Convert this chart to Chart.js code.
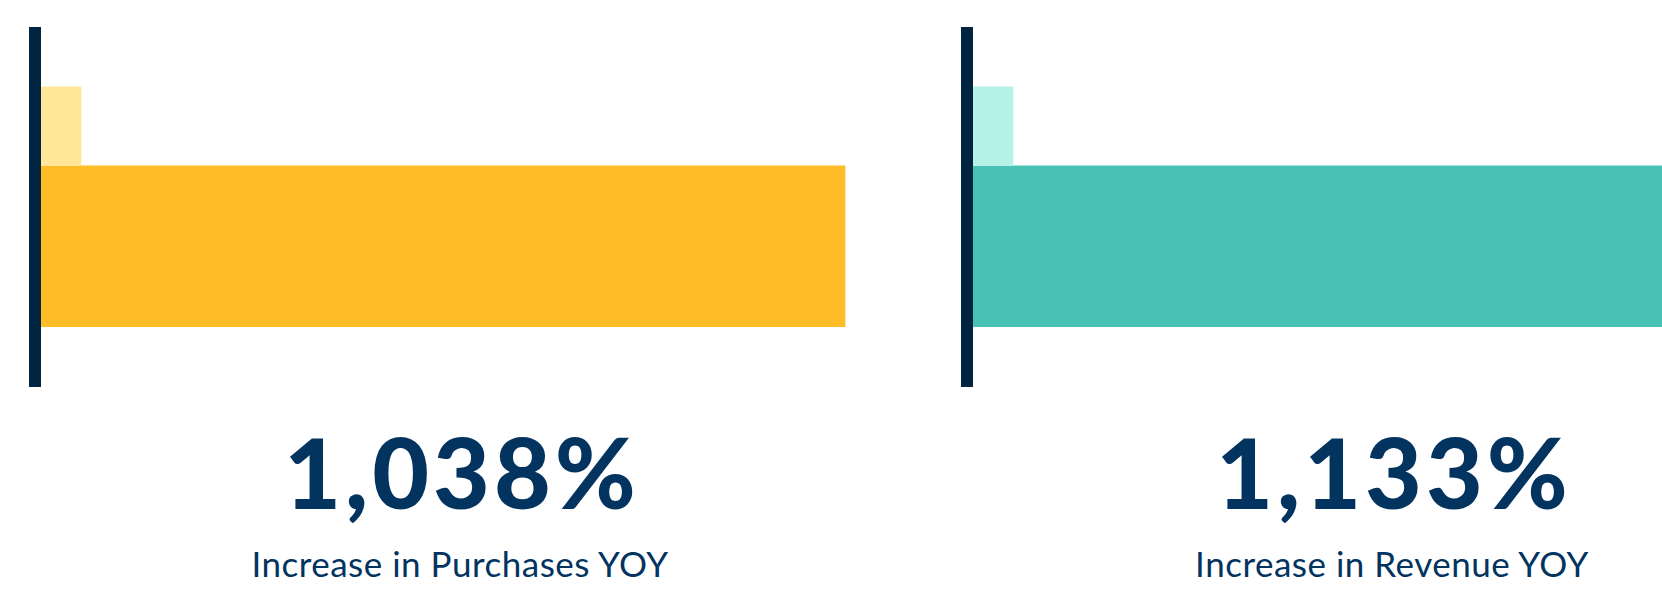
<!DOCTYPE html>
<html>
<head>
<meta charset="utf-8">
<title>YOY Increase</title>
<script src="https://cdn.jsdelivr.net/npm/chart.js"></script>
<style>
  body { margin:0; width:1662px; height:604px; overflow:hidden; background:#fff; font-family: Lato, sans-serif; }
  .panel { position:absolute; top:0; width:932px; height:604px; }
  .chartBox { position:absolute; left:0; top:0; width:932px; height:400px; }
  .big, .cap { position:absolute; width:920px; text-align:center; line-height:1.2; color:#03335f; white-space:nowrap; }
  .big { left:2px; top:413px; font-size:98px; font-weight:900; letter-spacing:4px; }
  .cap { left:0; top:542px; font-size:35px; font-weight:400; letter-spacing:0.5px; }
</style>
</head>
<body>
<div id="root"></div>
<script>
// values (last year = 100)
const panels = ['Purchases', 'Revenue'];
const lastYear = [100, 100];
const thisYear = [1761, 1908];
const increase = ['1,038%', '1,133%'];
const captions = ['Increase in Purchases YOY', 'Increase in Revenue YOY'];

const colors = {
  light: ['#ffe699', '#b5f1e6'],
  dark: ['#febd26', '#47c2b5'],
  axis: '#012441'
};
const ROW = 3;

const root = document.getElementById('root');
panels.forEach((name, i) => {
  const panel = document.createElement('div');
  panel.className = 'panel';
  panel.style.left = (i * 932) + 'px';
  panel.innerHTML = '<div class="chartBox"><canvas></canvas></div>' +
    '<div class="big">' + increase[i] + '</div>' +
    '<div class="cap">' + captions[i] + '</div>';
  root.appendChild(panel);

  new Chart(panel.querySelector('canvas'), {
    type: 'bar',
    data: {
      labels: [name],
      datasets: [
        { label: 'Last year', data: [{ x: lastYear[i], y: ROW }], backgroundColor: colors.light[i], barThickness: 79 },
        { label: 'This year', data: [{ x: thisYear[i], y: ROW }], backgroundColor: colors.dark[i], barThickness: 161 }
      ]
    },
    options: {
      indexAxis: 'y',
      responsive: true,
      maintainAspectRatio: false,
      animation: false,
      layout: { padding: { left: 35, top: 33, bottom: 13, right: 0 } },
      plugins: { legend: { display: false }, tooltip: { enabled: false } },
      scales: {
        x: { type: 'linear', min: 0, max: 1950, display: false },
        y: {
          type: 'linear', reverse: true, min: 0, max: 8, offset: false,
          ticks: { display: false },
          grid: { display: false, drawTicks: false, lineWidth: 0 },
          border: { display: true, color: colors.axis, width: 12, z: 1 }
        }
      }
    }
  });
});
</script>
</body>
</html>
